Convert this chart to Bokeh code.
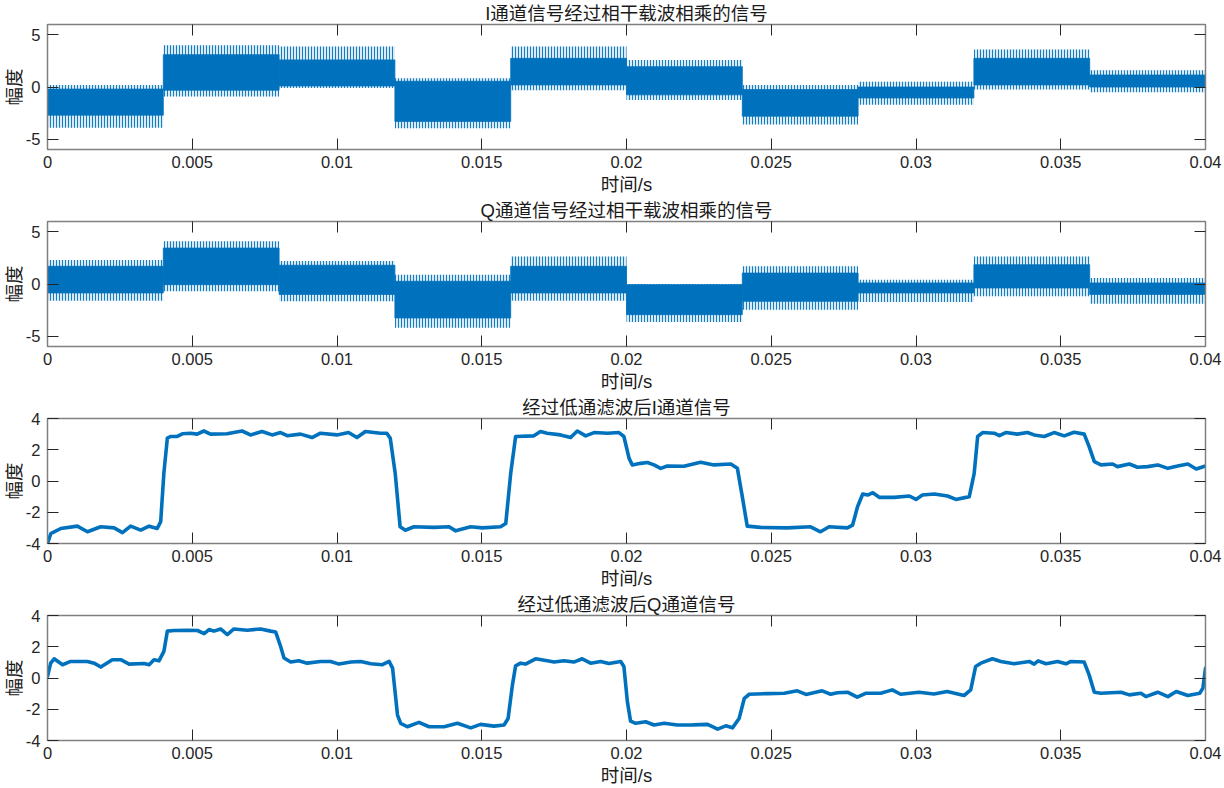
from bokeh.plotting import figure
from bokeh.models import Range1d, LinearAxis, FixedTicker
from bokeh.layouts import column
from bokeh.embed import file_html
from bokeh.resources import INLINE

BLUE = "#0072BD"
TXT = "#262626"

# ---------------- data ----------------
titles = ["I通道信号经过相干载波相乘的信号", "Q通道信号经过相干载波相乘的信号",
          "经过低通滤波后I通道信号", "经过低通滤波后Q通道信号"]
x_label = "时间/s"
y_label = "幅度"

x_ticks = [0, 0.005, 0.01, 0.015, 0.02, 0.025, 0.03, 0.035, 0.04]
x_tick_labels = ["0", "0.005", "0.01", "0.015", "0.02", "0.025", "0.03", "0.035", "0.04"]
mix_y_ticks = [-5, 0, 5]
lp_y_ticks = [-4, -2, 0, 2, 4]

# symbol intervals (s)
seg_start = [0.000, 0.004, 0.008, 0.012, 0.016, 0.020, 0.024, 0.028, 0.032, 0.036]
seg_end = [0.004, 0.008, 0.012, 0.016, 0.020, 0.024, 0.028, 0.032, 0.036, 0.040]

# I channel x carrier: dense core and spike extent per symbol
i_mix_core_top = [-0.2, 3.1, 2.6, 0.55, 2.75, 1.95, -0.25, 0.0, 2.75, 1.15]
i_mix_core_bot = [-2.7, -0.3, 0.1, -3.3, 0.2, -0.75, -2.8, -1.05, 0.2, 0.0]
i_mix_spike_top = [0.2, 4.0, 3.9, 0.85, 3.9, 2.6, 0.2, 0.5, 3.6, 1.6]
i_mix_spike_bot = [-3.9, -0.9, -0.1, -3.95, -0.3, -1.25, -3.6, -1.7, -0.25, -0.5]

# Q channel x carrier
q_mix_core_top = [1.7, 3.45, 1.8, 0.26, 1.7, -0.06, 1.05, 0.1, 1.85, 0.1]
q_mix_core_bot = [-0.86, -0.06, -1.0, -3.26, -0.86, -2.94, -1.66, -0.86, -0.38, -1.0]
q_mix_spike_top = [2.3, 4.1, 2.2, 0.9, 2.65, 0.0, 1.7, 0.42, 2.65, 0.58]
q_mix_spike_bot = [-1.6, -0.7, -1.66, -4.2, -1.6, -3.64, -2.46, -1.73, -1.18, -1.9]

# low-pass filtered I channel (time, amplitude)
i_filtered = [
    (0.0, -4.0), (0.000115, -3.36), (0.00023, -3.25), (0.00046, -3.04), (0.00103, -2.89),
    (0.00138, -3.25), (0.00184, -2.93), (0.0023, -3.0), (0.00259, -3.3), (0.00287, -2.89),
    (0.00322, -3.14), (0.00351, -2.89), (0.00379, -3.04), (0.00391, -2.6), (0.00402, 0.5),
    (0.00414, 2.74), (0.00425, 2.85), (0.00448, 2.85), (0.00466, 3.02), (0.00494, 3.06),
    (0.00517, 3.0), (0.0054, 3.2), (0.00563, 3.0), (0.0062, 3.02), (0.00672, 3.2),
    (0.00701, 2.95), (0.00741, 3.17), (0.00776, 2.95), (0.00805, 3.1), (0.00828, 2.9),
    (0.00874, 3.0), (0.00914, 2.78), (0.00943, 3.06), (0.01, 2.95), (0.0104, 3.1),
    (0.01069, 2.78), (0.01098, 3.17), (0.0115, 3.06), (0.01172, 3.06), (0.01184, 2.74),
    (0.01201, 0.5), (0.01218, -2.93), (0.01236, -3.15), (0.01266, -2.93), (0.01335, -2.97),
    (0.01387, -2.93), (0.0141, -3.19), (0.01462, -2.93), (0.01502, -3.0), (0.01565, -2.93),
    (0.01583, -2.72), (0.016, 0.49), (0.01617, 2.85), (0.0168, 2.89), (0.01703, 3.17),
    (0.01726, 3.06), (0.01772, 2.95), (0.01807, 2.78), (0.0183, 3.2), (0.01859, 2.89),
    (0.01888, 3.1), (0.01934, 3.06), (0.01974, 3.1), (0.01991, 2.85), (0.02009, 1.45),
    (0.0202, 1.03), (0.02049, 1.13), (0.02072, 1.18), (0.02095, 1.03), (0.02118, 0.81),
    (0.02141, 0.96), (0.02198, 0.94), (0.02256, 1.2), (0.02302, 1.03), (0.0236, 1.09),
    (0.02383, 0.81), (0.024, -1.0), (0.02417, -2.89), (0.02463, -2.97), (0.02556, -3.0),
    (0.02636, -2.93), (0.0267, -3.25), (0.027, -2.93), (0.02763, -3.0), (0.02781, -2.82),
    (0.02798, -1.65), (0.02816, -0.83), (0.02833, -0.9), (0.02851, -0.75), (0.02874, -1.05),
    (0.02925, -1.05), (0.02977, -0.96), (0.03, -1.18), (0.03022, -0.9), (0.03063, -0.83),
    (0.03109, -0.96), (0.03138, -1.18), (0.03184, -1.0), (0.03201, 0.49), (0.03213, 2.85),
    (0.0323, 3.1), (0.0327, 3.06), (0.03288, 2.9), (0.0331, 3.1), (0.0335, 3.0),
    (0.03385, 3.1), (0.03408, 2.95), (0.03443, 2.85), (0.03477, 3.1), (0.03512, 2.89),
    (0.03546, 3.12), (0.03581, 3.0), (0.03598, 2.2), (0.03616, 1.24), (0.03639, 1.03),
    (0.03679, 1.09), (0.03696, 0.92), (0.03737, 1.09), (0.03765, 0.88), (0.038, 0.92),
    (0.03835, 1.03), (0.0387, 0.81), (0.03904, 0.96), (0.03939, 1.09), (0.03968, 0.77),
    (0.04, 0.96),
]

# low-pass filtered Q channel (time, amplitude)
q_filtered = [
    (0.0, 0.1), (0.00011, 0.95), (0.00023, 1.23), (0.00052, 0.85), (0.0008, 1.06),
    (0.00138, 1.06), (0.00161, 0.95), (0.00184, 0.7), (0.00224, 1.17), (0.00253, 1.17),
    (0.00282, 0.89), (0.00334, 0.93), (0.00351, 0.85), (0.00368, 1.17), (0.00385, 1.1),
    (0.00402, 1.7), (0.00414, 3.0), (0.00437, 3.04), (0.00483, 3.06), (0.00518, 3.04),
    (0.00541, 2.84), (0.00558, 3.1), (0.00575, 3.0), (0.00598, 3.14), (0.00621, 2.78),
    (0.00644, 3.14), (0.0069, 3.06), (0.00736, 3.14), (0.00771, 3.0), (0.00788, 2.95),
    (0.00805, 2.03), (0.00817, 1.28), (0.0084, 1.02), (0.00868, 1.1), (0.00897, 0.95),
    (0.00943, 1.06), (0.00978, 1.06), (0.01007, 0.89), (0.01048, 1.02), (0.01082, 1.06),
    (0.01117, 0.91), (0.01157, 0.85), (0.0118, 1.06), (0.01192, 0.63), (0.01209, -2.37),
    (0.0122, -2.9), (0.01243, -3.12), (0.01283, -2.84), (0.01318, -3.12), (0.0137, -3.12),
    (0.01416, -2.9), (0.01462, -3.19), (0.01496, -2.97), (0.01542, -3.08), (0.01577, -3.01),
    (0.01591, -2.59), (0.01606, -0.44), (0.01617, 0.78), (0.01634, 0.95), (0.01651, 0.89),
    (0.01686, 1.23), (0.01726, 1.1), (0.0175, 1.02), (0.01784, 1.1), (0.01818, 1.02),
    (0.01847, 1.23), (0.01876, 0.95), (0.01911, 1.06), (0.01939, 0.93), (0.0198, 1.06),
    (0.01991, 0.74), (0.02003, -1.51), (0.02014, -2.76), (0.02032, -2.9), (0.02066, -2.8),
    (0.02095, -3.01), (0.0213, -2.9), (0.02176, -3.01), (0.0223, -3.0), (0.0228, -2.97),
    (0.02315, -3.27), (0.02343, -3.06), (0.02366, -3.19), (0.02389, -2.59), (0.02407, -1.3),
    (0.02424, -1.04), (0.02487, -1.0), (0.02545, -0.98), (0.0259, -0.82), (0.0262, -1.05),
    (0.02676, -0.82), (0.02705, -1.04), (0.02728, -0.94), (0.02763, -0.91), (0.02797, -1.23),
    (0.02826, -0.98), (0.02878, -0.98), (0.02918, -0.76), (0.02947, -1.04), (0.0301, -0.91),
    (0.03062, -1.02), (0.03108, -0.86), (0.03166, -1.12), (0.03189, -0.76), (0.03206, 0.74),
    (0.03224, 0.95), (0.03264, 1.23), (0.03293, 1.06), (0.03339, 0.91), (0.03391, 1.06),
    (0.03408, 0.89), (0.03422, 1.1), (0.03449, 0.91), (0.03489, 1.06), (0.03518, 0.91),
    (0.03535, 1.06), (0.03581, 1.02), (0.03598, 0.2), (0.03616, -0.91), (0.03639, -0.98),
    (0.03708, -0.91), (0.03737, -1.08), (0.03777, -0.98), (0.03794, -1.19), (0.03835, -0.91),
    (0.0387, -1.19), (0.03899, -0.86), (0.03939, -1.12), (0.0398, -0.98), (0.03991, -0.65),
    (0.04, 0.63),
]

# ---------------- layout constants ----------------
FW, FH = 1158, 125
LEFT, RIGHT, TOP, BOTTOM = 47, 19, 24, 48
LAT = "Liberation Sans"
CJK = "Liberation Sans, Noto Sans CJK SC"
LBL = "#1a1a1a"
LBL_SIZE = "18.5px"


def style_axis(ax, ticks, labels=None, show=True):
    ax.ticker = FixedTicker(ticks=ticks)
    ax.major_tick_in = 11
    ax.major_tick_out = 0
    ax.minor_tick_line_color = None
    ax.axis_line_color = "#808080"
    ax.axis_line_width = 1.5
    ax.major_tick_line_color = TXT
    ax.major_tick_line_width = 1
    ax.major_label_text_font = LAT
    if show:
        ax.major_label_text_color = TXT
        ax.major_label_text_font_size = "16.5px"
        if labels is not None:
            ax.major_label_overrides = {t: s for t, s in zip(ticks, labels)}
    else:
        ax.major_label_text_color = None
        ax.major_label_text_alpha = 0
        ax.major_label_text_font_size = "0px"
        ax.major_label_standoff = 0


def make_panel(ylim, yticks, title):
    p = figure(frame_width=FW, frame_height=FH,
               x_range=Range1d(0, 0.04), y_range=Range1d(-ylim, ylim),
               output_backend="svg", toolbar_location=None,
               min_border_left=LEFT, min_border_right=RIGHT,
               min_border_top=TOP, min_border_bottom=BOTTOM,
               title=title)
    p.grid.visible = False
    p.outline_line_color = None
    p.background_fill_color = "white"
    p.border_fill_color = "white"

    p.title.align = "center"
    p.title.text_font = CJK
    p.title.text_font_size = LBL_SIZE
    p.title.text_font_style = "normal"
    p.title.text_color = LBL
    p.title.standoff = 1
    p.title.offset = 0

    xa = p.xaxis[0]
    style_axis(xa, x_ticks, x_tick_labels)
    xa.major_label_standoff = 6
    xa.axis_label = x_label
    xa.axis_label_text_font = CJK
    xa.axis_label_text_font_size = LBL_SIZE
    xa.axis_label_text_font_style = "normal"
    xa.axis_label_text_color = LBL
    xa.axis_label_standoff = 3

    ya = p.yaxis[0]
    style_axis(ya, yticks, [str(v) for v in yticks])
    ya.major_label_standoff = 7
    ya.axis_label = y_label
    ya.axis_label_text_font = CJK
    ya.axis_label_text_font_size = LBL_SIZE
    ya.axis_label_text_font_style = "normal"
    ya.axis_label_text_color = LBL
    ya.axis_label_standoff = -2

    top_ax = LinearAxis()
    style_axis(top_ax, x_ticks, show=False)
    p.add_layout(top_ax, "above")
    right_ax = LinearAxis()
    style_axis(right_ax, yticks, show=False)
    p.add_layout(right_ax, "right")
    return p


def add_mix(p, core_top, core_bot, spike_top, spike_bot):
    p.quad(left=seg_start, right=seg_end, bottom=spike_bot, top=spike_top,
           fill_color=BLUE, fill_alpha=0.15, line_color=None,
           hatch_pattern="vertical_line", hatch_color=BLUE, hatch_alpha=0.9,
           hatch_scale=3, hatch_weight=1)
    p.quad(left=seg_start, right=seg_end, bottom=core_bot, top=core_top,
           fill_color=BLUE, fill_alpha=1.0, line_color=BLUE, line_width=0.8)


p1 = make_panel(6, mix_y_ticks, titles[0])
add_mix(p1, i_mix_core_top, i_mix_core_bot, i_mix_spike_top, i_mix_spike_bot)

p2 = make_panel(6, mix_y_ticks, titles[1])
add_mix(p2, q_mix_core_top, q_mix_core_bot, q_mix_spike_top, q_mix_spike_bot)

p3 = make_panel(4, lp_y_ticks, titles[2])
p3.line([t for t, _ in i_filtered], [v for _, v in i_filtered],
        line_width=3.6, line_color=BLUE, line_join="round", line_cap="round")

p4 = make_panel(4, lp_y_ticks, titles[3])
p4.line([t for t, _ in q_filtered], [v for _, v in q_filtered],
        line_width=3.6, line_color=BLUE, line_join="round", line_cap="round")

layout = column(p1, p2, p3, p4, spacing=0)
open("out.html", "w").write(file_html(layout, INLINE))
